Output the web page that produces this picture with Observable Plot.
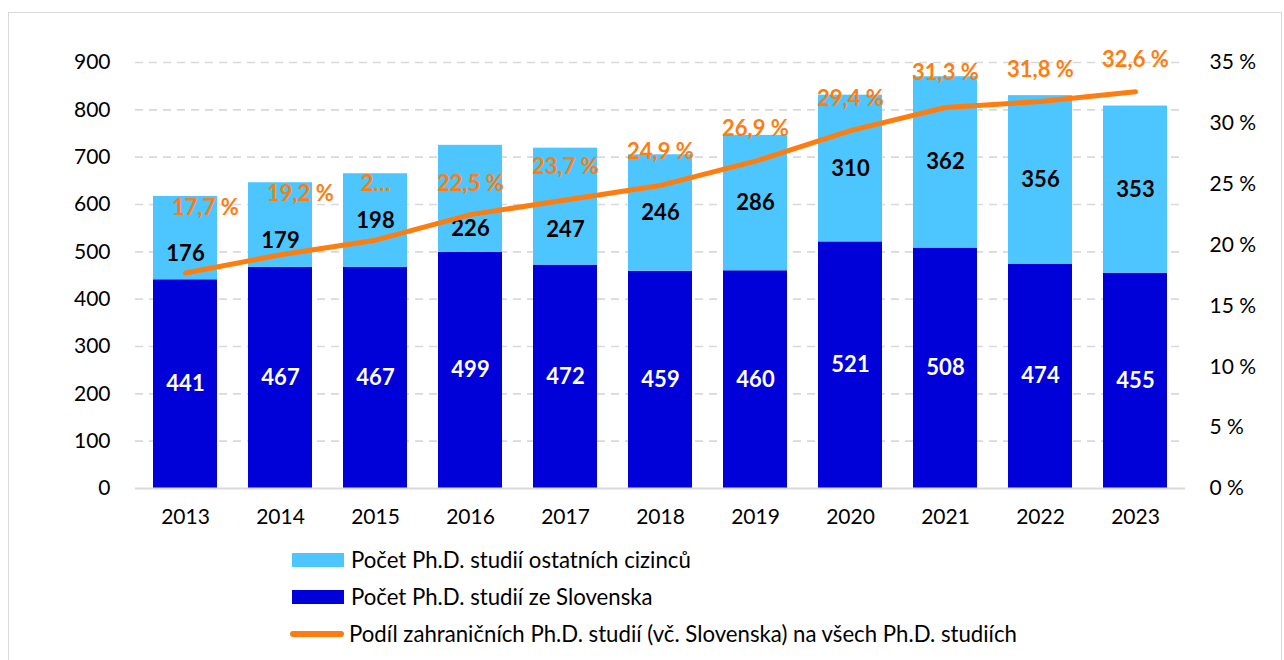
<!DOCTYPE html>
<html>
<head>
<meta charset="utf-8">
<script src="https://cdn.jsdelivr.net/npm/d3@7"></script>
<script src="https://cdn.jsdelivr.net/npm/@observablehq/plot@0.6"></script>
<style>
  body { margin: 0; background: #fff; font-family: Lato, "Open Sans", sans-serif; }
  #wrap { position: relative; width: 1284px; height: 660px; overflow: hidden; }
  #frame { position: absolute; left: 8px; top: 12px; width: 1274px; height: 700px; border: 1.5px solid #d9d9d9; box-sizing: border-box; }
  #chart { position: absolute; left: 0; top: 0; }
  #legend { position: absolute; left: 292px; top: 541px; font-size: 22.2px; color: #000; }
  .row { display: flex; align-items: center; height: 37px; }
  .sw { width: 52px; height: 14px; margin-right: 7px; }
  .ln { width: 54px; height: 6px; border-radius: 3px; margin-right: 5px; margin-left: -2px; }
</style>
</head>
<body>
<div id="wrap">
  <div id="frame"></div>
  <div id="chart"></div>
  <div id="legend"></div>
</div>
<script>
const years = ["2013","2014","2015","2016","2017","2018","2019","2020","2021","2022","2023"];
const slovakia = [441, 467, 467, 499, 472, 459, 460, 521, 508, 474, 455];
const others = [176, 179, 198, 226, 247, 246, 286, 310, 362, 356, 353];
const share = [17.7, 19.2, 20.4, 22.5, 23.7, 24.9, 26.9, 29.4, 31.3, 31.8, 32.6];
const yTicks = [0, 100, 200, 300, 400, 500, 600, 700, 800, 900];
const pctTicks = [0, 5, 10, 15, 20, 25, 30, 35];
const seriesNames = ["Počet Ph.D. studií ostatních cizinců", "Počet Ph.D. studií ze Slovenska", "Podíl zahraničních Ph.D. studií (vč. Slovenska) na všech Ph.D. studiích"];

const C_LIGHT = "#4dc6ff", C_DARK = "#0000d9", C_ORANGE = "#ff7c0e";
const PMAX = 35, YMAX = 900;
const toY = p => p * YMAX / PMAX;

const W = 1284, H = 540, MT = 62, MB = 52;
const pxPerUnit = (H - MT - MB) / YMAX;
// label nudges in pixels (labels were moved by hand in the original)
const pctDy = [65, 61, 56, 31, 33, 33, 32, 32, 35, 31, 32];
const othDy = [16, 16, 0, 30, 23, 0, 0, 0, 0, 0, 0];
const shiftedPct = [0, 1];

const bars = [];
years.forEach((y, i) => {
  bars.push({year: y, series: "sk", value: slovakia[i]});
  bars.push({year: y, series: "ot", value: others[i]});
});
const lineData = years.map((y, i) => ({year: y, pct: share[i], i}));
const fmtPct = v => v.toFixed(1).replace(".", ",") + " %";
const pctLabel = {
  x: "year",
  y: d => toY(d.pct) + pctDy[d.i] / pxPerUnit,
  text: d => d.i === 2 ? "2…" : fmtPct(d.pct),
  fill: C_ORANGE, fontWeight: "bold", fontSize: 22
};

const plot = Plot.plot({
  width: W,
  height: H,
  marginLeft: 135,
  marginRight: 99,
  marginTop: MT,
  marginBottom: MB,
  style: {fontFamily: "Lato, 'Open Sans', sans-serif", fontSize: "21px", color: "#000", background: "transparent"},
  x: {domain: years, paddingInner: 0.33, paddingOuter: 0.165, label: null},
  y: {domain: [0, YMAX], label: null},
  color: {domain: ["sk", "ot"], range: [C_DARK, C_LIGHT]},
  marks: [
    Plot.gridY(yTicks.filter(d => d > 0), {stroke: "#d9d9d9", strokeOpacity: 1, strokeWidth: 1.6, strokeDasharray: "8,6"}),
    Plot.barY(bars, {x: "year", y: "value", fill: "series", order: ["sk", "ot"]}),
    Plot.ruleY([0], {stroke: "#d9d9d9", strokeWidth: 2}),
    Plot.axisY({ticks: yTicks, tickSize: 0, tickPadding: 25, fontSize: 21, label: null}),
    Plot.axisY({anchor: "right", ticks: pctTicks.map(toY), tickFormat: d => Math.round(d * PMAX / YMAX) + " %", tickSize: 0, tickPadding: 24, fontSize: 21, label: null, textAnchor: "start"}),
    Plot.axisX({tickSize: 0, tickPadding: 21, fontSize: 21, label: null}),
    Plot.text(years.map((y, i) => ({year: y, v: slovakia[i]})), {x: "year", y: d => d.v / 2, text: d => String(d.v), fill: "#fff", fontWeight: "bold", fontSize: 22}),
    Plot.text(years.map((y, i) => ({year: y, v: others[i], base: slovakia[i], i})), {x: "year", y: d => d.base + d.v / 2 - othDy[d.i] / pxPerUnit, text: d => String(d.v), fill: "#000", fontWeight: "bold", fontSize: 22}),
    Plot.line(lineData, {x: "year", y: d => toY(d.pct), stroke: C_ORANGE, strokeWidth: 5, strokeLinejoin: "round", strokeLinecap: "round"}),
    Plot.text(lineData.filter(d => shiftedPct.includes(d.i)), {...pctLabel, dx: 20}),
    Plot.text(lineData.filter(d => !shiftedPct.includes(d.i)), pctLabel)
  ]
});
document.getElementById("chart").appendChild(plot);

const legend = document.getElementById("legend");
legend.innerHTML = `
  <div class="row"><div class="sw" style="background:${C_LIGHT}"></div><span>${seriesNames[0]}</span></div>
  <div class="row"><div class="sw" style="background:${C_DARK}"></div><span>${seriesNames[1]}</span></div>
  <div class="row"><div class="ln" style="background:${C_ORANGE}"></div><span>${seriesNames[2]}</span></div>`;
</script>
</body>
</html>
